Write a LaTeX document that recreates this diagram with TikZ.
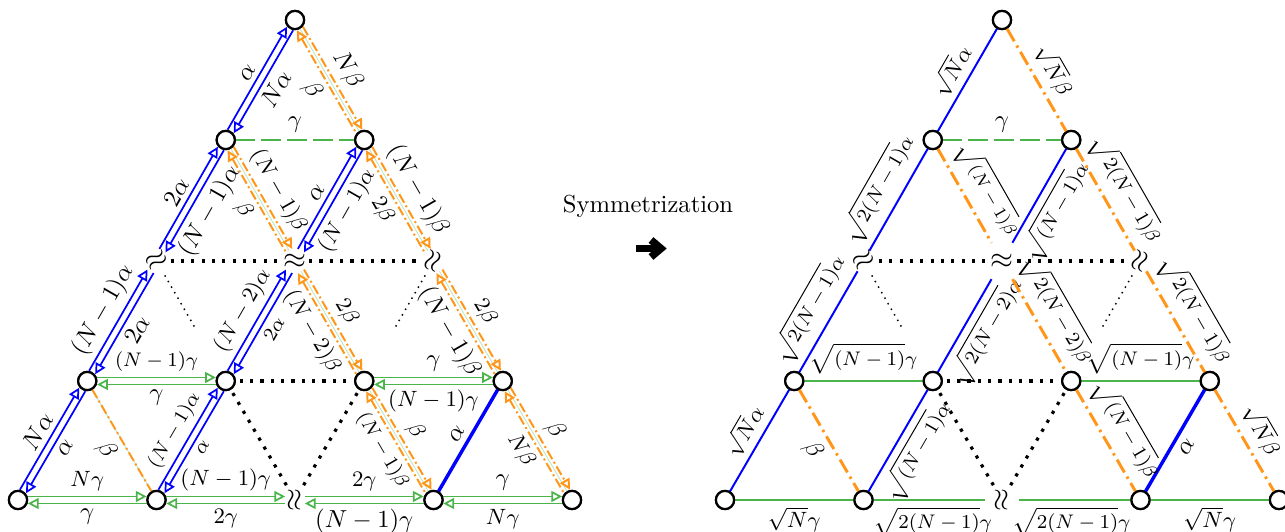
\documentclass[tikz,border=0pt]{standalone}
\usetikzlibrary{arrows.meta,calc}
\definecolor{cblue}{RGB}{0,0,255}
\definecolor{corange}{RGB}{255,150,25}
\definecolor{cgreen}{RGB}{75,180,75}
\newcommand\off{0.05cm}
\newcommand\rc{0.14cm}
\newcommand\rb{0.17cm}
\newcommand\dedge[5]{%
  \draw[#1,->] ($(#2)!\off!90:(#3)$) -- ($(#3)!\off!-90:(#2)$) node[lab,midway,sloped,above]{#4};
  \draw[#1,<-] ($(#2)!\off!-90:(#3)$) -- ($(#3)!\off!90:(#2)$) node[lab,midway,sloped,below]{#5};}
\newcommand\pale[3]{\draw[paleline,#1] (#2.center) -- (#3.center);}
\newcommand\sedge[5]{\draw[#1] (#2.center) -- (#3.center) node[slab,midway,sloped,#4]{#5};}
\tikzset{
  nd/.style={circle,draw,line width=0.9pt,fill=white,minimum size=0.26cm,inner sep=0pt},
  brk/.style={inner sep=0pt,font=\fontsize{13}{13}\selectfont},
  lab/.style={inner sep=2pt,text=black},
  slab/.style={inner sep=2.5pt,text=black},
  sCC/.style={shorten <=\rc,shorten >=\rc},
  sCB/.style={shorten <=\rc,shorten >=\rb},
  sBC/.style={shorten <=\rb,shorten >=\rc},
  sCQ/.style={shorten <=\rc,shorten >=0.14cm},
  sQC/.style={shorten <=0.14cm,shorten >=\rc},
  sCW/.style={shorten <=\rc,shorten >=0.24cm},
  sWC/.style={shorten <=0.24cm,shorten >=\rc},
  sCM/.style={shorten <=\rc,shorten >=0.3cm},
  sMC/.style={shorten <=0.3cm,shorten >=\rc},
  bl/.style={cblue,line width=0.7pt},
  og/.style={corange,line width=0.8pt,dash pattern=on 4pt off 1.3pt on 0.8pt off 1.3pt},
  gr/.style={cgreen,line width=0.7pt},
  paleline/.style={cgreen!35,line width=0.35pt},
  bl2/.style={cblue,line width=0.8pt},
  blt/.style={cblue,line width=1.4pt},
  og2/.style={corange,line width=1.2pt,dash pattern=on 6pt off 2pt on 1pt off 2pt},
  gr2/.style={cgreen,line width=0.8pt},
  grd/.style={cgreen,line width=1.2pt,dash pattern=on 8pt off 2.5pt},
  dotb/.style={line width=1.3pt,dash pattern=on 1.3pt off 2.9pt},
  dots/.style={line width=0.6pt,dash pattern=on 0.6pt off 2pt},
}
\begin{document}
\begin{tikzpicture}[x=0.0142857cm,y=-0.0142857cm,>={Triangle[open,length=4.4pt,width=4.4pt]}]
\useasboundingbox (0,0) rectangle (1285,532);
% ---------------- left triangle nodes
\node[nd] (lT) at (295,20) {};
\node[nd] (lA1) at (225.75,140) {};
\node[nd] (lB1) at (364.25,140) {};
\node[brk,rotate=30] (lL2) at (156.5,261) {$\approx$};
\node[brk] (lM2) at (295,261) {$\approx$};
\node[brk,rotate=70] (lR2) at (433.5,261) {$\approx$};
\node[nd] (lP0) at (87.25,381) {};
\node[nd] (lP1) at (225.75,381) {};
\node[nd] (lP2) at (364.25,381) {};
\node[nd] (lP3) at (502.75,381) {};
\node[nd] (lQ0) at (18,500) {};
\node[nd] (lQ1) at (156.5,500) {};
\node[brk,rotate=90] (lQ2) at (295,500) {$\approx$};
\node[nd] (lQ3) at (433.5,500) {};
\node[nd] (lQ4) at (572,500) {};
% ---------------- right triangle nodes
\node[nd] (rT) at (1002,20) {};
\node[nd] (rA1) at (932.75,140) {};
\node[nd] (rB1) at (1071.25,140) {};
\node[brk,rotate=30] (rL2) at (863.5,261) {$\approx$};
\node[brk] (rM2) at (1002,261) {$\approx$};
\node[brk,rotate=70] (rR2) at (1140.5,261) {$\approx$};
\node[nd] (rP0) at (794.25,381) {};
\node[nd] (rP1) at (932.75,381) {};
\node[nd] (rP2) at (1071.25,381) {};
\node[nd] (rP3) at (1209.75,381) {};
\node[nd] (rQ0) at (725,500) {};
\node[nd] (rQ1) at (863.5,500) {};
\node[brk,rotate=90] (rQ2) at (1002,500) {$\approx$};
\node[nd] (rQ3) at (1140.5,500) {};
\node[nd] (rQ4) at (1279,500) {};
% ---------------- left: dotted
\draw[dotb,shorten <=0.2cm,shorten >=0.2cm] (lL2.center) -- (lM2.center);
\draw[dotb,shorten <=0.2cm,shorten >=0.2cm] (lM2.center) -- (lR2.center);
\draw[dotb,shorten <=0.2cm,shorten >=0.2cm] (lP1.center) -- (lP2.center);
\draw[dotb,shorten <=0.2cm,shorten >=0.18cm] (lP1.center) -- (lQ2.center);
\draw[dotb,shorten <=0.2cm,shorten >=0.18cm] (lP2.center) -- (lQ2.center);
\draw[dots] ($(lL2)!0.12!(lP1)$) -- ($(lL2)!0.55!(lP1)$);
\draw[dots] ($(lR2)!0.12!(lP2)$) -- ($(lR2)!0.55!(lP2)$);
% ---------------- left: blue
\dedge{bl,sCC}{lA1}{lT}{$\alpha$}{$N\alpha$}
\dedge{bl,sBC}{lL2}{lA1}{$2\alpha$}{$(N-1)\alpha$}
\dedge{bl,sCB}{lP0}{lL2}{$(N-1)\alpha$}{$2\alpha$}
\dedge{bl,sCC}{lQ0}{lP0}{$N\alpha$}{$\alpha$}
\dedge{bl,sBC}{lM2}{lB1}{$\alpha$}{\small$(N-1)\alpha$}
\dedge{bl,sCB}{lP1}{lM2}{\small$(N-2)\alpha$}{\footnotesize$2\alpha$}
\dedge{bl,sCC}{lQ1}{lP1}{\footnotesize$(N-1)\alpha$}{\footnotesize$\alpha$}
\sedge{blt,sCC}{lQ3}{lP3}{above}{$\alpha$}
% ---------------- left: orange
\pale{sCC}{lT}{lB1}
\pale{sCB}{lA1}{lM2}
\pale{sCB}{lB1}{lR2}
\pale{sBC}{lM2}{lP2}
\pale{sBC}{lR2}{lP3}
\pale{sCC}{lP2}{lQ3}
\pale{sCC}{lP3}{lQ4}
\pale{sCC}{lP0}{lQ1}
\dedge{og,sCC}{lT}{lB1}{$N\beta$}{$\beta$}
\dedge{og,sCB}{lA1}{lM2}{\small$(N-1)\beta$}{\small$\beta$}
\dedge{og,sCB}{lB1}{lR2}{$(N-1)\beta$}{\small$2\beta$}
\dedge{og,sBC}{lM2}{lP2}{\small$2\beta$}{\small$(N-2)\beta$}
\dedge{og,sBC}{lR2}{lP3}{\small$2\beta$}{$(N-1)\beta$}
\dedge{og,sCC}{lP2}{lQ3}{\small$\beta$}{\footnotesize$(N-1)\beta$}
\dedge{og,sCC}{lP3}{lQ4}{$\beta$}{\small$N\beta$}
\sedge{og,sCC}{lP0}{lQ1}{below}{$\beta$}
% ---------------- left: green
\sedge{grd,sCC}{lA1}{lB1}{above}{$\gamma$}
\dedge{gr,sCC}{lP0}{lP1}{\footnotesize$(N-1)\gamma$}{$\gamma$}
\dedge{gr,sCC}{lP2}{lP3}{$\gamma$}{\small$(N-1)\gamma$}
\dedge{gr,sCC}{lQ0}{lQ1}{\small$N\gamma$}{$\gamma$}
\dedge{gr,sCQ}{lQ1}{lQ2}{\small$(N-1)\gamma$}{\small$2\gamma$}
\dedge{gr,sQC}{lQ2}{lQ3}{\small$2\gamma$}{$(N-1)\gamma$}
\dedge{gr,sCC}{lQ3}{lQ4}{$\gamma$}{\small$N\gamma$}
% ---------------- middle
\node (sym) at (648,206) {Symmetrization};
\draw[line width=3pt] (636,248.5) -- (658,248.5);
\draw[line width=3pt,miter limit=10] (651,240) -- (661,248.5) -- (651,257);
% ---------------- right: dotted
\draw[dotb,shorten <=0.22cm,shorten >=0.22cm] (rL2.center) -- (rM2.center);
\draw[dotb,shorten <=0.22cm,shorten >=0.22cm] (rM2.center) -- (rR2.center);
\draw[dotb,shorten <=0.2cm,shorten >=0.2cm] (rP1.center) -- (rP2.center);
\draw[dotb,shorten <=0.2cm,shorten >=0.2cm] (rP1.center) -- (rQ2.center);
\draw[dotb,shorten <=0.2cm,shorten >=0.2cm] (rP2.center) -- (rQ2.center);
\draw[dots] ($(rL2)!0.12!(rP1)$) -- ($(rL2)!0.55!(rP1)$);
\draw[dots] ($(rR2)!0.12!(rP2)$) -- ($(rR2)!0.55!(rP2)$);
% ---------------- right: blue
\sedge{bl2,sCC}{rA1}{rT}{above}{\small$\sqrt{N}\alpha$}
\sedge{bl2,sBC}{rL2}{rA1}{above}{\footnotesize$\sqrt{2(N-1)}\alpha$}
\sedge{bl2,sMC}{rM2}{rB1}{below}{\footnotesize$\sqrt{(N-1)}\alpha$}
\sedge{bl2,sCB}{rP0}{rL2}{above}{\footnotesize$\sqrt{2(N-1)}\alpha$}
\sedge{bl2,sCM}{rP1}{rM2}{below}{\footnotesize$\sqrt{2(N-2)}\alpha$}
\sedge{bl2,sCC}{rQ0}{rP0}{above}{\small$\sqrt{N}\alpha$}
\sedge{bl2,sCC}{rQ1}{rP1}{below}{\footnotesize$\sqrt{(N-1)}\alpha$}
\sedge{blt,sCC}{rQ3}{rP3}{below}{$\alpha$}
% ---------------- right: orange
\sedge{og2,sCC}{rT}{rB1}{above}{\small$\sqrt{N}\beta$}
\sedge{og2,sCM}{rA1}{rM2}{above}{\scriptsize$\sqrt{(N-1)}\beta$}
\sedge{og2,sCB}{rB1}{rR2}{above}{\footnotesize$\sqrt{2(N-1)}\beta$}
\sedge{og2,sMC}{rM2}{rP2}{above}{\footnotesize$\sqrt{2(N-2)}\beta$}
\sedge{og2,sBC}{rR2}{rP3}{above}{\footnotesize$\sqrt{2(N-1)}\beta$}
\sedge{og2,sCC}{rP0}{rQ1}{below}{$\beta$}
\sedge{og2,sCC}{rP2}{rQ3}{above}{\footnotesize$\sqrt{(N-1)}\beta$}
\sedge{og2,sCC}{rP3}{rQ4}{above}{\small$\sqrt{N}\beta$}
% ---------------- right: green
\sedge{grd,sCC}{rA1}{rB1}{above}{$\gamma$}
\sedge{gr2,sCC}{rP0}{rP1}{above}{\footnotesize$\sqrt{(N-1)}\gamma$}
\sedge{gr2,sCC}{rP2}{rP3}{above}{\footnotesize$\sqrt{(N-1)}\gamma$}
\sedge{gr2,sCC}{rQ0}{rQ1}{below}{\small$\sqrt{N}\gamma$}
\sedge{gr2,sCW}{rQ1}{rQ2}{below}{\footnotesize$\sqrt{2(N-1)}\gamma$}
\sedge{gr2,sWC}{rQ2}{rQ3}{below}{\footnotesize$\sqrt{2(N-1)}\gamma$}
\sedge{gr2,sCC}{rQ3}{rQ4}{below}{\small$\sqrt{N}\gamma$}
% ---------------- redraw node circles on top
\foreach \n in {lT,lA1,lB1,lP0,lP1,lP2,lP3,lQ0,lQ1,lQ3,lQ4,rT,rA1,rB1,rP0,rP1,rP2,rP3,rQ0,rQ1,rQ3,rQ4}
  \draw[line width=0.9pt,fill=white] (\n.center) circle (0.13cm);
\end{tikzpicture}
\end{document}
